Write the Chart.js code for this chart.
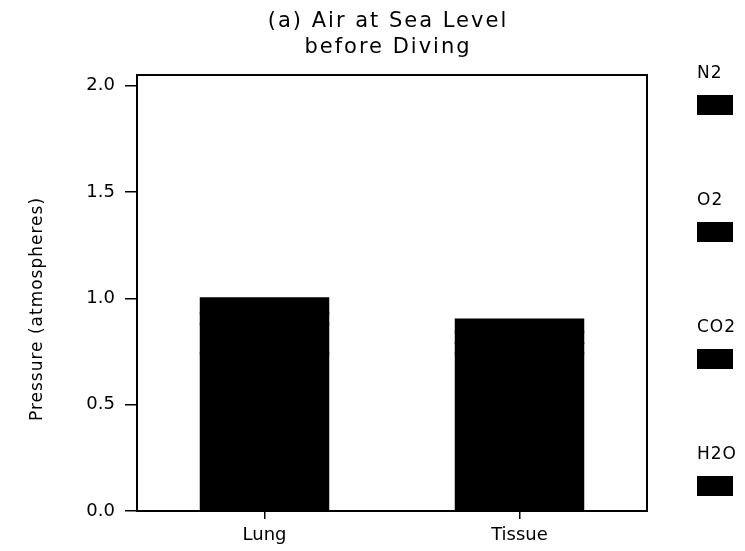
<!DOCTYPE html>
<html>
<head>
<meta charset="utf-8">
<script src="https://cdn.jsdelivr.net/npm/chart.js@4.4.1/dist/chart.umd.min.js"></script>
<style>
    html, body { margin: 0; padding: 0; background: #fff; }
    #wrap { width: 745px; height: 551px; }
</style>
</head>
<body>
<div id="wrap"><canvas id="gas-chart" width="745" height="551"></canvas></div>
<script>
const categories = ['Lung', 'Tissue'];
const gasNames = ['N2', 'O2', 'CO2', 'H2O'];
const n2Values = [0.74, 0.74];
const o2Values = [0.14, 0.05];
const co2Values = [0.05, 0.05];
const h2oValues = [0.07, 0.06];
const yTicks = [0, 0.5, 1.0, 1.5, 2.0];
const titleLines = ['(a) Air at Sea Level', 'before Diving'];
const yTitle = 'Pressure (atmospheres)';

const font = 'DejaVu Sans';
const ink = '#000';

const series = [n2Values, o2Values, co2Values, h2oValues];
const datasets = gasNames.map((name, i) => ({
    label: name,
    data: series[i],
    backgroundColor: ink,
    borderWidth: 0,
    inflateAmount: 1,
    categoryPercentage: 1,
    barPercentage: 0.5,
}));

// title, box, y title and side legend
const decor = {
    id: 'decor',
    afterDraw(chart) {
        const { ctx, chartArea } = chart;
        ctx.save();
        ctx.strokeStyle = ink;
        ctx.lineWidth = 2;
        ctx.strokeRect(chartArea.left, chartArea.top, chartArea.right - chartArea.left, chartArea.bottom - chartArea.top);

        ctx.fillStyle = ink;
        ctx.textAlign = 'center';
        ctx.textBaseline = 'middle';
        ctx.font = `21px "${font}"`;
        ctx.letterSpacing = '2px';
        const cx = (chartArea.left + chartArea.right) / 2 - 4;
        ctx.fillText(titleLines[0], cx, 22);
        ctx.fillText(titleLines[1], cx, 48);

        ctx.font = `17px "${font}"`;
        ctx.letterSpacing = '1px';
        ctx.translate(38, (chartArea.top + chartArea.bottom) / 2 + 16);
        ctx.rotate(-Math.PI / 2);
        ctx.fillText(yTitle, 0, 0);
        ctx.restore();

        ctx.save();
        ctx.font = `17px "${font}"`;
        ctx.letterSpacing = '1px';
        ctx.textAlign = 'left';
        ctx.textBaseline = 'middle';
        chart.data.datasets.forEach((ds, i) => {
            const y = 74 + i * 127;
            ctx.fillStyle = ink;
            ctx.fillText(ds.label, 697, y);
            ctx.fillStyle = ds.backgroundColor;
            ctx.fillRect(697, y + 21, 36, 20);
        });
        ctx.restore();
    },
};

new Chart(document.getElementById('gas-chart'), {
    type: 'bar',
    data: { labels: categories, datasets },
    options: {
        responsive: false,
        animation: false,
        layout: { padding: { top: 75, right: 98, left: 0, bottom: 0 } },
        plugins: {
            legend: { display: false },
            title: { display: false },
            tooltip: { enabled: false },
        },
        scales: {
            x: {
                stacked: true,
                grid: { offset: false, drawOnChartArea: false, color: ink, tickLength: 8, lineWidth: 1.5 },
                border: { display: false },
                ticks: { color: ink, font: { family: font, size: 18 }, padding: 6 },
                afterFit(scale) { scale.height = 40; },
            },
            y: {
                stacked: true,
                min: 0,
                max: 2.05,
                afterBuildTicks(scale) { scale.ticks = yTicks.map((v) => ({ value: v })); },
                grid: { drawOnChartArea: false, color: ink, tickLength: 12, lineWidth: 1.5 },
                border: { display: false },
                ticks: {
                    color: ink,
                    font: { family: font, size: 18 },
                    padding: 10,
                    callback: (v) => Number(v).toFixed(1),
                },
                afterFit(scale) { scale.width = 137; },
            },
        },
    },
    plugins: [decor],
});
</script>
</body>
</html>
